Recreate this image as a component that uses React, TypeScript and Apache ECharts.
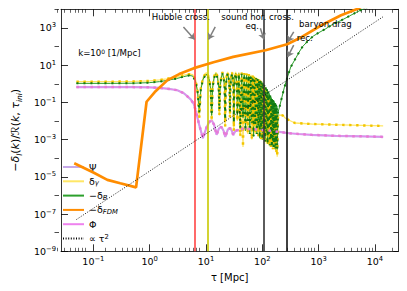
import React, { useEffect, useRef } from 'react';
import * as echarts from 'echarts';

// ---------- data (tau in Mpc, amplitude) ----------
const psiCurve: [number, number][] = [
  [0.05, 0.66], [0.5, 0.66], [1, 0.64], [1.5, 0.6], [2.2, 0.53], [3.1, 0.45], [4.1, 0.3], [5.4, 0.14],
  [6.1, 0.08], [6.9, 0.02], [7.6, 0.006], [8.8, 0.0012], [10.3, 0.0048], [11.5, 0.009], [12.6, 0.0113],
  [14, 0.006], [15.4, 0.0018], [17, 0.004], [18.7, 0.0048], [20.5, 0.003], [22, 0.0014], [24.5, 0.0035],
  [26.9, 0.0042], [28.7, 0.003], [30.4, 0.0018], [33.5, 0.003], [37.2, 0.0033], [41, 0.0028], [45, 0.0041],
  [55, 0.0037], [70, 0.0036], [100, 0.0033], [150, 0.0029], [200, 0.0026], [300, 0.0022], [440, 0.002],
  [750, 0.0018], [2000, 0.0016], [6000, 0.0015], [14000, 0.0014],
];

const deltaGamma: [number, number][] = [
  [0.05, 1.3], [0.2, 1.3], [0.5, 1.33], [1, 1.42], [1.5, 1.6], [2, 1.85], [3, 2.3], [4, 2.9], [5, 3.3], [5.8, 3.1],
  [6.5, 1.7], [7.1, 0.4], [7.6, 0.015],
  [8.1, 0.6], [8.9, 2.2], [10.1, 4.0], [11.3, 2.2], [12.1, 0.6], [12.6, 0.01],
  [13.1, 0.7], [13.9, 2.4], [15, 4.2], [16.1, 2.4], [16.8, 0.7], [17.3, 0.02],
  [17.8, 0.7], [18.6, 2.4], [19.6, 4.3], [20.6, 2.4], [21.4, 0.7], [21.9, 0.005],
  [22.4, 0.7], [23.2, 2.4], [24.2, 4.3], [25.2, 2.4], [26.1, 0.7], [26.6, 0.015],
  [27.1, 0.7], [27.9, 2.4], [28.9, 4.3], [29.9, 2.4], [30.7, 0.7], [31.2, 0.003],
  [31.7, 0.7], [32.6, 2.4], [33.6, 4.3], [34.6, 2.4], [35.5, 0.7], [36, 0.01],
  [38.3, 4.2], [40.7, 0.0015], [43, 4.0], [45.4, 0.0004], [47.8, 3.8], [50.2, 0.006], [52.6, 3.6], [55, 0.002],
  [57.5, 3.3], [60, 0.01], [62.5, 3.0], [65, 0.001], [67.5, 2.8], [70, 0.005], [72.5, 2.5], [75, 0.002],
  [77.5, 2.2], [80, 0.008], [82.5, 2.0], [85, 0.0015], [87.5, 1.7], [90, 0.004], [92.5, 1.5], [95, 0.001],
  [97.5, 1.3], [100, 0.003], [103, 1.0], [106, 0.001], [109, 0.7], [112, 0.002], [115, 0.45], [118, 0.0006],
  [121, 0.3], [124, 0.0015], [127, 0.2], [130, 0.0005], [133, 0.13], [136, 0.001], [139, 0.09], [142, 0.0004],
  [145, 0.06], [148, 0.0008], [151, 0.045], [154, 0.0003], [157, 0.035], [160, 0.0006], [163, 0.028],
  [166, 0.0003], [169, 0.024], [172, 0.0005], [175, 0.022], [178, 0.0002], [181, 0.02], [184, 0.00012],
  [190, 0.015], [198, 0.021], [230, 0.02], [255, 0.0145], [300, 0.011], [380, 0.0078], [750, 0.0069],
  [2500, 0.0062], [14000, 0.0054],
];

const negDeltaB: [number, number][] = [
  [0.05, 1.05], [0.2, 1.05], [0.5, 1.07], [1, 1.15], [1.5, 1.3], [2, 1.5], [3, 1.9], [4, 2.4], [5, 2.8], [5.8, 2.6],
  [6.5, 1.4], [7.1, 0.35], [7.6, 0.03],
  [8.1, 0.5], [8.9, 1.8], [10.1, 3.3], [11.3, 1.8], [12.1, 0.5], [12.6, 0.02],
  [13.1, 0.6], [13.9, 2.0], [15, 3.5], [16.1, 2.0], [16.8, 0.6], [17.3, 0.04],
  [17.8, 0.6], [18.6, 2.0], [19.6, 3.6], [20.6, 2.0], [21.4, 0.6], [21.9, 0.012],
  [22.4, 0.6], [23.2, 2.0], [24.2, 3.6], [25.2, 2.0], [26.1, 0.6], [26.6, 0.03],
  [27.1, 0.6], [27.9, 2.0], [28.9, 3.6], [29.9, 2.0], [30.7, 0.6], [31.2, 0.008],
  [31.7, 0.6], [32.6, 2.0], [33.6, 3.6], [34.6, 2.0], [35.5, 0.6], [36, 0.02],
  [38.3, 3.5], [40.7, 0.004], [43, 3.4], [45.4, 0.015], [47.8, 3.2], [50.2, 0.003], [52.6, 3.0], [55, 0.01],
  [57.5, 2.8], [60, 0.002], [62.5, 2.6], [65, 0.008], [67.5, 2.4], [70, 0.0015], [72.5, 2.2], [75, 0.006],
  [77.5, 2.0], [80, 0.002], [82.5, 1.8], [85, 0.005], [87.5, 1.6], [90, 0.0012], [92.5, 1.45], [95, 0.004],
  [97.5, 1.3], [100, 0.001], [103, 1.1], [106, 0.003], [109, 0.85], [112, 0.0008], [115, 0.65], [118, 0.002],
  [121, 0.5], [124, 0.0006], [127, 0.38], [130, 0.0015], [133, 0.3], [136, 0.0005], [139, 0.23], [142, 0.001],
  [145, 0.18], [148, 0.0004], [151, 0.15], [154, 0.0008], [157, 0.13], [160, 0.0004], [163, 0.11],
  [166, 0.0006], [169, 0.09], [172, 0.0003], [175, 0.075], [178, 0.0005], [181, 0.065], [184, 0.0003],
  [190, 0.03], [200, 0.05], [220, 0.16], [245, 0.6], [276, 2], [320, 8], [380, 20], [450, 50], [520, 100],
  [667, 220], [800, 360], [1000, 550], [1300, 850], [1800, 1600], [2500, 2500], [3500, 4300], [4500, 6500],
  [6000, 10000], [8000, 15000],
];

const negDeltaFDM: [number, number][] = [
  [0.0457, 5.4e-5], [0.1, 1.7e-5], [0.177, 6.9e-6], [0.3, 4.5e-6], [0.573, 2.7e-6], [0.88, 0.108], [1.23, 0.36],
  [2.07, 1.57], [3.34, 3.3], [6.1, 6.9], [13.6, 14.4], [30.4, 27.8], [114, 63], [276, 133], [503, 328],
  [1122, 1387], [2506, 4760], [4960, 10700], [7000, 20000],
];

const tauSquared: [number, number][] = [[0.05, 5.1e-8], [13900, 3950]];

// vertical event markers
const eventTau = [6.28, 10.6, 107, 276];
const eventColor = ['#ff4444', '#c8c800', '#333333', '#111111'];

// annotation texts (center position in tau / amplitude)
const annoText = ['Hubble cross.', 'sound hor. cross.', 'eq.', 'baryon drag', 'rec.', 'k=10{p|0} [1/Mpc]'];
const annoPos: [number, number][] = [[3.58, 3725], [82.8, 3725], [66.4, 1300], [1318, 1570], [567, 305], [0.0537, 44]];
const annoAlign = ['center', 'center', 'center', 'center', 'center', 'left'];

// arrows: tail tau, tail amp, head tau, head amp
const arrows: [number, number, number, number][] = [
  [3.97, 1125, 6.28, 238],
  [14.6, 1125, 11.1, 238],
  [92.3, 950, 107, 238],
  [361, 608, 282, 177],
  [361, 118, 282, 27.8],
];

const legendLabel: Record<string, string> = {
  psi: 'Ψ',
  dg: 'δ{s|γ}',
  db: '−δ{s|B}',
  dfdm: '−δ{s|FDM}',
  phi: 'Φ',
  tau2: '∝ τ{p|2}',
};

// ---------- axis setup ----------
const X_MIN = -1.575;
const X_MAX = 4.415;
const Y_MIN = -9;
const Y_MAX = 4;
const majorX = [-1, 0, 1, 2, 3, 4];
const minorX: number[] = [];
for (let e = -2; e <= 4; e++) {
  for (let k = 2; k <= 9; k++) {
    const v = e + Math.log10(k);
    if (v > X_MIN && v < X_MAX) minorX.push(v);
  }
}
const yOdd = [-9, -7, -5, -3, -1, 1, 3];
const yEven = [-8, -6, -4, -2, 0, 2, 4];
const yAll = [-9, -8, -7, -6, -5, -4, -3, -2, -1, 0, 1, 2, 3, 4];

const FONT = 'DejaVu Sans';
const lg = (arr: [number, number][]) => arr.map(([t, v]) => [Math.log10(t), Math.log10(v)]);
const powLabel = (v: number) => {
  const n = Math.round(v);
  return '10{p|' + (n < 0 ? '−' + -n : String(n)) + '}';
};

export default function App() {
  const ref = useRef<HTMLDivElement>(null);
  useEffect(() => {
    if (!ref.current) return;
    const chart = echarts.init(ref.current, undefined, { renderer: 'svg' });
    const gridBox = { left: 54.5, right: 8.7, top: 9.3, bottom: 39.7 };
    const tickLine = { color: '#000', width: 0.8 };
    const axisLineStyle = { show: true, onZero: false, lineStyle: { color: '#000', width: 0.8 } };
    const noLine = { show: false, onZero: false };
    const labelRich = { p: { fontSize: 6.8, verticalAlign: 'top', lineHeight: 8, fontFamily: FONT, color: '#000' } };

    const lineSeries = (name: string, data: [number, number][], color: string, width: number, z: number, type: any = 'solid') => ({
      name,
      type: 'line',
      data: lg(data),
      xAxisIndex: 0,
      yAxisIndex: 0,
      symbol: 'none',
      showSymbol: false,
      color,
      itemStyle: { color },
      lineStyle: { color, width, type, cap: 'butt' },
      z,
      silent: true,
    });

    const option: any = {
      animation: false,
      backgroundColor: '#fff',
      textStyle: { fontFamily: FONT },
      grid: [
        { ...gridBox },
        { ...gridBox },
      ],
      xAxis: [
        {
          type: 'value', gridIndex: 0, position: 'bottom', min: X_MIN, max: X_MAX,
          axisLine: axisLineStyle,
          axisTick: { show: true, inside: true, length: 7, customValues: majorX, lineStyle: tickLine },
          axisLabel: {
            show: true, customValues: majorX, formatter: powLabel, fontSize: 9.5, color: '#000',
            fontFamily: FONT, margin: 4, lineHeight: 12, rich: labelRich,
          },
          splitLine: { show: false },
          name: 'τ [Mpc]', nameLocation: 'middle', nameGap: 18,
          nameTextStyle: { fontSize: 10, color: '#000', fontFamily: FONT },
        },
        {
          type: 'value', gridIndex: 0, position: 'top', min: X_MIN, max: X_MAX,
          axisLine: axisLineStyle,
          axisTick: { show: true, inside: true, length: 7, customValues: majorX, lineStyle: tickLine },
          axisLabel: { show: false },
          splitLine: { show: false },
        },
        {
          type: 'value', gridIndex: 1, position: 'bottom', min: X_MIN, max: X_MAX,
          axisLine: noLine,
          axisTick: { show: true, inside: true, length: 3.5, customValues: minorX, lineStyle: { color: '#000', width: 0.6 } },
          axisLabel: { show: false },
          splitLine: { show: false },
        },
        {
          type: 'value', gridIndex: 1, position: 'top', min: X_MIN, max: X_MAX,
          axisLine: noLine,
          axisTick: { show: true, inside: true, length: 3.5, customValues: minorX, lineStyle: { color: '#000', width: 0.6 } },
          axisLabel: { show: false },
          splitLine: { show: false },
        },
      ],
      yAxis: [
        {
          type: 'value', gridIndex: 0, position: 'left', min: Y_MIN, max: Y_MAX,
          axisLine: axisLineStyle,
          axisTick: { show: true, inside: true, length: 7, customValues: yOdd, lineStyle: tickLine },
          axisLabel: {
            show: true, customValues: yOdd, formatter: powLabel, fontSize: 9.5, color: '#000',
            fontFamily: FONT, margin: 5, lineHeight: 12, rich: labelRich,
          },
          splitLine: { show: false },
          name: '−{i|δ}{s|l}({i|k})/{i|ℛ}({i|k}, {i|τ}{s|ini})',
          nameLocation: 'middle',
          nameGap: 33,
          nameTextStyle: {
            fontSize: 11, color: '#000', fontFamily: FONT, lineHeight: 15,
            rich: {
              i: { fontStyle: 'italic', fontSize: 11, fontFamily: FONT, color: '#000', lineHeight: 15 },
              s: { fontStyle: 'italic', fontSize: 7.5, fontFamily: FONT, color: '#000', verticalAlign: 'bottom', lineHeight: 9 },
            },
          },
        },
        {
          type: 'value', gridIndex: 0, position: 'right', min: Y_MIN, max: Y_MAX,
          axisLine: axisLineStyle,
          axisTick: { show: true, inside: true, length: 5, customValues: yAll, lineStyle: tickLine },
          axisLabel: { show: false },
          splitLine: { show: false },
        },
        {
          type: 'value', gridIndex: 1, position: 'left', min: Y_MIN, max: Y_MAX,
          axisLine: noLine,
          axisTick: { show: true, inside: true, length: 4.5, customValues: yEven, lineStyle: { color: '#000', width: 0.7 } },
          axisLabel: { show: false },
          splitLine: { show: false },
        },
      ],
      legend: {
        orient: 'vertical',
        left: 62,
        top: 161.5,
        itemWidth: 21,
        itemHeight: 10,
        itemGap: 3.3,
        padding: 0,
        itemStyle: { opacity: 0 },
        data: ['psi', 'dg', 'db', 'dfdm', 'phi', 'tau2'],
        formatter: (n: string) => legendLabel[n] || n,
        textStyle: {
          fontSize: 9.5, color: '#000', fontFamily: FONT, lineHeight: 11,
          rich: {
            s: { fontSize: 6.8, fontStyle: 'italic', verticalAlign: 'bottom', lineHeight: 8, fontFamily: FONT, color: '#000' },
            p: { fontSize: 6.8, verticalAlign: 'top', lineHeight: 8, fontFamily: FONT, color: '#000' },
          },
        },
      },
      series: [
        lineSeries('psi', psiCurve, '#c5a8e8', 2.2, 2),
        lineSeries('dg', deltaGamma, '#ffe766', 1.3, 2),
        lineSeries('db', negDeltaB, '#2ca02c', 1, 3),
        lineSeries('phi', psiCurve, '#ee82ee', 1, 3),
        lineSeries('dgDots', deltaGamma, '#f2c400', 2.4, 4, [2.4, 4.6]),
        lineSeries('dbDots', negDeltaB, '#137a13', 2, 4, [2, 5]),
        lineSeries('psiDots', psiCurve, '#e77ad6', 2.5, 4, [2.5, 4.5]),
        lineSeries('dfdm', negDeltaFDM, '#ff8c00', 2.7, 5),
        {
          ...lineSeries('tau2', tauSquared, '#000000', 0.9, 6, [1, 1.6]),
          markLine: {
            silent: true,
            symbol: ['none', 'none'],
            label: { show: false },
            data: eventTau.map((t, i) => ({
              xAxis: Math.log10(t),
              lineStyle: { color: eventColor[i], width: 1.6, type: 'solid' },
            })),
          },
        },
        {
          type: 'lines',
          coordinateSystem: 'cartesian2d',
          xAxisIndex: 0,
          yAxisIndex: 0,
          symbol: ['none', 'arrow'],
          symbolSize: 6,
          silent: true,
          z: 8,
          lineStyle: { color: '#7f7f7f', width: 1.5, opacity: 1 },
          data: arrows.map(([t0, v0, t1, v1]) => ({
            coords: [[Math.log10(t0), Math.log10(v0)], [Math.log10(t1), Math.log10(v1)]],
          })),
        },
        {
          type: 'custom',
          xAxisIndex: 0,
          yAxisIndex: 0,
          silent: true,
          z: 9,
          clip: false,
          data: lg(annoPos),
          renderItem: (params: any, api: any) => {
            const p = api.coord([api.value(0), api.value(1)]);
            const i = params.dataIndex;
            return {
              type: 'text',
              x: p[0],
              y: p[1],
              style: {
                text: annoText[i],
                fill: '#000',
                fontSize: 8.6,
                fontFamily: FONT,
                align: annoAlign[i],
                verticalAlign: 'middle',
                rich: { p: { fontSize: 6, verticalAlign: 'top', lineHeight: 7, fontFamily: FONT, fill: '#000' } },
              },
            };
          },
        },
      ],
    };
    chart.setOption(option);
    return () => chart.dispose();
  }, []);
  return (
    <div
      ref={ref}
      style={{ position: 'fixed', left: 0, top: 0, width: 407, height: 291, background: '#fff' }}
    />
  );
}
